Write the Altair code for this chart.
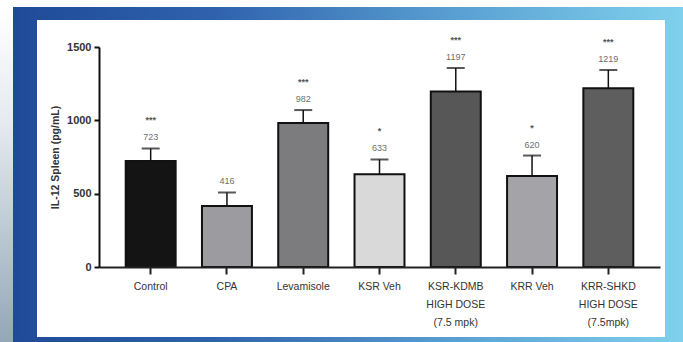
import altair as alt
import pandas as pd

# IL-12 levels in spleen per treatment group
groups = [
    "Control",
    "CPA",
    "Levamisole",
    "KSR Veh",
    "KSR-KDMB|HIGH DOSE|(7.5 mpk)",
    "KRR Veh",
    "KRR-SHKD|HIGH DOSE|(7.5mpk)",
]
means = [723, 416, 982, 633, 1197, 620, 1219]
sem = [85, 92, 88, 100, 160, 140, 125]
labels = ["723", "416", "982", "633", "1197", "620", "1219"]
stars = ["***", "", "***", "*", "***", "*", "***"]
bar_colors = ["#141414", "#9c9ca0", "#7c7c7e", "#d9d9d9", "#575757", "#a4a4a8", "#5e5e5e"]

df = pd.DataFrame({
    "group": groups,
    "mean": means,
    "upper": [m + s for m, s in zip(means, sem)],
    "label": labels,
    "stars": stars,
    "color": bar_colors,
})

W, H = 561, 220
PAD = {"left": 99, "top": 47, "right": 23, "bottom": 75}

one = pd.DataFrame({"k": [0]})

# slide frame: blue gradient border, pale strip at the left, white panel
frame = alt.Chart(one).mark_rect(
    color=alt.LinearGradient(
        gradient="linear",
        stops=[
            alt.GradientStop(offset=0, color="#1f4a98"),
            alt.GradientStop(offset=0.3, color="#2f62ad"),
            alt.GradientStop(offset=0.7, color="#5ea6d6"),
            alt.GradientStop(offset=1, color="#7fd0ec"),
        ],
        x1=0, x2=1, y1=0, y2=0,
    )
).encode(x=alt.value(-86), x2=alt.value(W + PAD["right"]),
         y=alt.value(-40), y2=alt.value(H + PAD["bottom"]))

strip = alt.Chart(one).mark_rect(
    color=alt.LinearGradient(
        gradient="linear",
        stops=[
            alt.GradientStop(offset=0, color="#ffffff"),
            alt.GradientStop(offset=0.35, color="#e4eaf0"),
            alt.GradientStop(offset=1, color="#93a7b8"),
        ],
        x1=0, x2=0, y1=0, y2=1,
    )
).encode(x=alt.value(-PAD["left"]), x2=alt.value(-86),
         y=alt.value(-40), y2=alt.value(H + PAD["bottom"]))

panel = alt.Chart(one).mark_rect(color="#ffffff").encode(
    x=alt.value(-62), x2=alt.value(566), y=alt.value(-27), y2=alt.value(290)
)

x_enc = alt.X(
    "group:N",
    sort=groups,
    scale=alt.Scale(paddingInner=0.345, paddingOuter=0.35),
    axis=alt.Axis(
        title=None,
        labelExpr="split(datum.label, '|')",
        labelAngle=0,
        labelFont="Liberation Sans",
        labelFontSize=10.5,
        labelColor="#333333",
        labelLineHeight=18,
        labelPadding=7,
        labelLimit=200,
        domainColor="#222222",
        domainWidth=2,
        tickColor="#222222",
        tickWidth=2,
        tickSize=7,
        zindex=1,
    ),
)

y_scale = alt.Scale(domain=[0, 1500], nice=False)

bars = alt.Chart(df).mark_bar(stroke="#111111", strokeWidth=2).encode(
    x=x_enc,
    y=alt.Y(
        "mean:Q",
        scale=y_scale,
        axis=alt.Axis(
            title="IL-12 Spleen (pg/mL)",
            values=[0, 500, 1000, 1500],
            format="d",
            grid=False,
            labelFont="Liberation Sans",
            labelFontSize=11,
            labelFontWeight="bold",
            labelColor="#333333",
            labelPadding=3,
            titleFont="Liberation Sans",
            titleFontSize=10.5,
            titleFontWeight="bold",
            titleColor="#333333",
            titlePadding=6,
            domainColor="#111111",
            domainWidth=2,
            tickColor="#111111",
            tickWidth=2,
            tickSize=5,
            zindex=1,
        ),
    ),
    color=alt.Color("color:N", scale=None),
)

err = alt.Chart(df).mark_rule(color="#111111", strokeWidth=1.5).encode(
    x=alt.X("group:N", sort=groups),
    y=alt.Y("mean:Q", scale=y_scale),
    y2="upper:Q",
)

caps = alt.Chart(df).mark_tick(color="#111111", thickness=2, size=18).encode(
    x=alt.X("group:N", sort=groups),
    y=alt.Y("upper:Q", scale=y_scale),
)

values = alt.Chart(df).mark_text(
    font="Liberation Sans", fontSize=9, color="#6e6e6e", dy=-11, baseline="middle"
).encode(
    x=alt.X("group:N", sort=groups),
    y=alt.Y("upper:Q", scale=y_scale),
    text="label:N",
)

sig = alt.Chart(df).mark_text(
    font="Liberation Sans", fontSize=9, fontWeight="bold", color="#555555", dy=-28, baseline="middle"
).encode(
    x=alt.X("group:N", sort=groups),
    y=alt.Y("upper:Q", scale=y_scale),
    text="stars:N",
)

chart = alt.layer(frame, strip, panel, bars, err, caps, values, sig).properties(
    width=W,
    height=H,
    padding=PAD,
    autosize=alt.AutoSizeParams(type="none"),
    background="#ffffff",
).configure_view(stroke=None)

chart.save("out.html", embed_options={"renderer": "svg", "actions": False})
